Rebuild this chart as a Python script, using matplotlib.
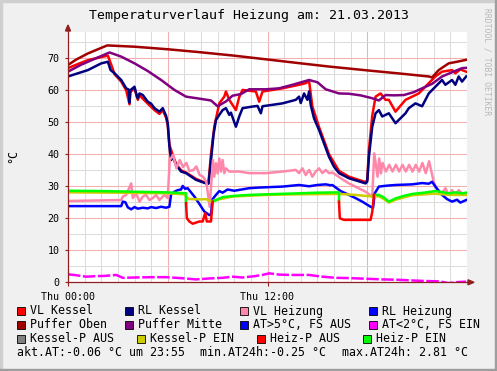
import numpy as np
import matplotlib
matplotlib.use("Agg")
import matplotlib.pyplot as plt
from matplotlib.patches import Rectangle, Polygon
from matplotlib.lines import Line2D

nan = np.nan

# --- Daten (Stunden seit 00:00, Temperatur in °C) ---
puffer_oben_t = [0, 0.5, 1.2, 1.8, 2.36, 4, 6, 7.9, 10, 12, 14, 15.7, 18, 20, 21.7, 21.9, 22.3, 22.9, 23.4, 23.95]
puffer_oben_v = [67.9, 69.6, 71.5, 72.8, 74.0, 73.6, 72.8, 71.9, 70.8, 69.6, 68.4, 67.4, 66.2, 65.2, 64.3, 64.0, 66.3, 68.4, 68.9, 69.5]

puffer_mitte_t = [0, 0.8, 1.6, 2.5, 3.2, 4, 4.8, 5.6, 6.4, 7.1, 8, 8.6, 9.0, 9.5, 9.9, 10.4, 10.9, 11.9, 12.7, 13.5,
                  14.5, 15.0, 15.5, 16.3, 16.9, 17.6, 18.3, 18.7, 19.1, 19.6, 20.2, 20.8, 21.3, 21.9, 22.5, 23.1, 23.7, 23.95]
puffer_mitte_v = [65.8, 68.0, 69.8, 71.8, 70.5, 68.4, 66.0, 63.2, 60.1, 58.0, 57.3, 56.8, 55.0, 56.5, 58.3, 58.8, 60.3, 60.3, 60.6, 61.7,
                  63.2, 62.5, 60.3, 59.0, 58.9, 58.4, 57.5, 56.8, 58.5, 58.4, 58.5, 59.4, 60.6, 62.0, 64.3, 65.6, 66.9, 67.0]

rl_kessel_t = [0, 0.6, 1.2, 2.0, 2.4, 2.56, 2.8, 3.2, 3.5, 3.65, 3.7, 3.75, 4.0, 4.15, 4.2, 4.3, 4.5, 4.8, 5.0, 5.2,
               5.5, 5.7, 5.9, 6.0, 6.1, 6.2, 6.3, 6.5, 6.8, 7.1, 7.7, 8.3, 8.45, 8.6, 8.75, 8.9, 9.1, 9.3, 9.5, 9.7,
               9.8, 10.1, 10.3, 10.5, 11.1, 11.4, 11.6, 11.7, 12.9, 13.7, 13.9, 14.0, 14.2, 14.4, 14.5, 14.6, 14.8, 15.1, 15.4, 15.7,
               16.0, 16.3, 16.9, 17.9, 18.0, 18.1, 18.3, 18.5, 18.7, 18.9, 19.3, 19.7, 20.3, 20.5, 20.9, 21.3, 21.7, 22.1, 22.5, 22.7,
               23.1, 23.3, 23.5, 23.7, 23.95]
rl_kessel_v = [64.3, 65.3, 66.3, 68.4, 68.9, 66.3, 65.3, 63.2, 60.6, 60.2, 56.1, 60.0, 61.1, 58.0, 57.5, 59.0, 58.5, 56.4, 55.8, 54.4,
               53.3, 54.4, 52.0, 49.7, 42.4, 38.2, 39.2, 36.7, 34.6, 34.1, 32.0, 30.9, 30.8, 38.0, 46.0, 50.7, 52.3, 53.8, 54.4, 52.3,
               53.0, 48.6, 51.8, 54.4, 54.9, 55.1, 52.8, 55.0, 55.9, 57.0, 58.0, 56.0, 59.0, 57.0, 59.6, 55.4, 51.2, 47.6, 43.4, 39.2,
               36.1, 34.1, 32.5, 30.9, 31.5, 39.2, 48.6, 52.8, 53.8, 51.8, 52.8, 49.7, 52.8, 54.4, 55.9, 55.0, 59.0, 61.1, 63.2, 61.7,
               63.2, 61.7, 64.3, 62.7, 64.3]

vl_kessel_t = [0, 0.6, 1.2, 2.1, 2.4, 2.6, 2.8, 3.2, 3.5, 3.7, 3.75, 4.0, 4.2, 4.3, 4.8, 5.2, 5.5, 5.7, 5.9, 6.0,
               6.1, 6.3, 6.5, 6.8, 7.1, 7.7, 8.3, 8.45, 8.6, 8.8, 9.1, 9.4, 9.5, 9.7, 10.1, 10.3, 10.5, 11.3, 11.5, 11.7,
               12.9, 13.9, 14.3, 14.5, 14.7, 15.1, 15.4, 15.7, 16.3, 16.9, 17.9, 18.0, 18.1, 18.3, 18.5, 18.8, 19.1, 19.3, 19.7, 20.3,
               20.7, 21.1, 21.7, 22.1, 22.5, 23.1, 23.3, 23.6, 23.95]
vl_kessel_v = [66.9, 68.2, 69.4, 70.5, 70.8, 68.0, 65.0, 62.7, 60.0, 55.6, 59.5, 60.5, 57.0, 58.4, 55.8, 53.8, 52.6, 53.8, 51.4, 49.0,
               43.0, 39.8, 37.0, 35.0, 34.3, 32.3, 31.0, 31.0, 40.0, 48.6, 55.9, 58.0, 59.6, 57.0, 53.8, 57.9, 60.1, 59.6, 56.4, 59.6,
               60.6, 61.7, 62.2, 62.9, 54.9, 48.5, 44.3, 40.0, 34.8, 33.0, 31.3, 32.0, 41.3, 52.0, 58.0, 59.0, 57.0, 57.0, 53.3, 57.0,
               58.0, 59.0, 62.2, 64.3, 65.8, 66.3, 65.3, 66.5, 65.8]

vl_heizung_t = [0, 3.2, 3.3, 3.5, 3.8, 3.9, 4.1, 4.3, 4.5, 4.7, 4.9, 5.1, 5.3, 5.5, 5.8, 6.0, 6.12, 6.32, 6.52, 6.72,
                6.92, 7.12, 7.3, 7.52, 7.72, 7.92, 8.12, 8.32, 8.52, 8.72, 8.8, 8.9, 9.0, 9.1, 9.2, 9.3, 9.4, 9.5, 9.7, 9.9,
                10.3, 10.9, 11.9, 12.9, 13.7, 13.9, 14.1, 14.3, 14.5, 14.7, 14.9, 15.1, 15.3, 15.5, 15.7, 15.9, 16.5, 16.9, 17.9, 18.3,
                18.42, 18.62, 18.72, 18.82, 18.92, 19.12, 19.32, 19.52, 19.72, 19.92, 20.12, 20.32, 20.52, 20.72, 20.92, 21.12, 21.32, 21.52, 21.72, 21.88,
                22.0, 22.2, 22.5, 22.7, 22.9, 23.1, 23.3, 23.5, 23.7, 23.95]
vl_heizung_v = [25.4, 25.7, 26.8, 27.3, 30.9, 26.3, 27.8, 25.2, 26.8, 27.3, 25.7, 26.3, 27.3, 25.7, 27.3, 26.3, 38.2, 39.8, 35.6, 38.2,
                36.0, 37.3, 34.8, 35.0, 36.2, 33.5, 33.0, 31.4, 23.6, 38.2, 33.0, 37.2, 34.0, 38.7, 34.6, 38.2, 34.1, 35.6, 34.6, 34.6,
                34.6, 34.1, 34.1, 34.6, 35.1, 34.1, 35.6, 33.5, 35.1, 33.0, 34.6, 35.6, 34.1, 35.1, 34.1, 34.3, 32.2, 30.9, 28.3, 26.8,
                40.3, 33.0, 38.7, 34.0, 37.3, 34.6, 36.7, 34.6, 36.7, 34.6, 36.7, 34.6, 36.7, 34.6, 36.7, 34.6, 37.3, 34.1, 37.8, 34.1,
                31.4, 28.8, 27.8, 29.4, 27.3, 28.8, 27.3, 28.8, 27.8, 27.3]

rl_heizung_t = [0, 3.2, 3.3, 3.45, 3.6, 3.8, 4.0, 4.2, 4.5, 4.8, 5.0, 5.3, 5.6, 5.9, 6.1, 6.2, 6.4, 6.6, 6.8, 6.9,
                7.05, 7.2, 7.6, 7.9, 8.2, 8.5, 8.6, 8.7, 8.9, 9.1, 9.3, 9.6, 10.0, 10.9, 11.5, 12.9, 13.9, 14.5, 15.0, 15.5,
                15.8, 15.9, 16.4, 16.9, 17.3, 17.7, 18.2, 18.35, 18.45, 18.7, 19.2, 19.7, 20.7, 21.3, 21.7, 21.9, 22.1, 22.5, 22.8, 23.1,
                23.4, 23.6, 23.95]
rl_heizung_v = [23.8, 23.8, 25.2, 25.0, 23.4, 22.8, 23.5, 23.0, 23.3, 23.1, 23.5, 23.2, 23.6, 23.3, 23.6, 27.5, 28.3, 28.8, 29.0, 30.1,
                29.2, 29.4, 26.8, 24.5, 22.1, 21.0, 21.2, 26.0, 27.3, 28.5, 28.0, 29.0, 28.6, 29.4, 29.6, 29.9, 30.4, 30.0, 30.4, 30.6,
                30.3, 30.4, 28.5, 27.3, 26.3, 25.2, 23.6, 23.3, 27.8, 29.9, 30.2, 30.4, 30.6, 31.0, 30.8, 31.4, 29.9, 27.3, 26.0, 25.2,
                25.8, 24.9, 25.7]

at_t = [0, 0.5, 1.1, 1.6, 2.2, 2.9, 3.3, 4, 5, 5.9, 6.8, 7.7, 8.5, 9.3, 9.9, 10.5, 11.2, 11.7, 12.1, 12.7,
        13.4, 14.5, 15.2, 16.1, 17, 18, 18.9, 19.8, 20.6, 21.5, 22.3, 22.9, 23.5, 23.95]
at_v = [2.5, 2.2, 1.75, 1.9, 2.0, 2.3, 1.4, 1.5, 1.6, 1.6, 1.3, 0.9, 1.2, 1.4, 1.75, 1.5, 1.9, 2.3, 2.8, 2.4,
        2.3, 2.3, 1.8, 1.4, 1.3, 1.1, 0.9, 0.8, 0.6, 0.4, 0.3, -0.25, 0.1, 0.2]

kesselp_ein_t = [0, 3, 6, 7.0, 7.15, 7.3, 8.0, 8.3, 8.6, 8.8, 9.9, 11.9, 13.9, 16.3, 17.3, 18.3, 18.7, 19.0, 19.3, 19.7,
                 20.7, 22, 23, 23.95]
kesselp_ein_v = [28.1, 28.0, 27.8, 27.5, 26.5, 26.0, 25.9, 26.0, 25.2, 25.6, 26.8, 27.3, 27.5, 27.6, 27.3, 26.8, 26.9, 26.0, 24.9, 25.8,
                 27.2, 27.7, 27.3, 27.3]

# Heizungspumpe: EIN (gruen) / AUS (rot), nan trennt Abschnitte
heizp_ein_t = [0, 2, 4, 6, 7.1, 7.1, nan, 8.7, 9.3, 10.0, 10.9, 12, 13.9, 15, 16.3, 16.3, nan,
               18.4, 18.7, 19.0, 19.3, 19.7, 20.2, 20.7, 21.4, 22.1, 22.5, 22.9, 23.3, 23.7, 23.95]
heizp_ein_v = [28.6, 28.5, 28.3, 28.1, 27.8, 24.7, nan, 25.2, 26.6, 27.0, 27.3, 27.5, 27.8, 28.0, 28.1, 25.2, nan,
               27.3, 27.3, 26.5, 25.2, 26.2, 27.0, 27.6, 28.0, 28.5, 28.2, 27.8, 28.1, 27.8, 28.0]
heizp_aus_t = [7.1, 7.15, 7.3, 7.5, 7.9, 8.1, 8.25, 8.35, 8.6, 8.65, 8.7, nan,
               16.3, 16.35, 16.6, 17.5, 18.2, 18.3, 18.4]
heizp_aus_v = [24.7, 20.0, 19.0, 18.3, 19.0, 19.0, 21.6, 19.0, 19.0, 22.0, 25.2, nan,
               25.2, 20.0, 19.5, 19.5, 19.5, 22.0, 27.3]

W, H = 497, 371


def fx(x):
    return x / W


def fy(y):
    return 1 - y / H


plt.rcParams["font.family"] = "DejaVu Sans Mono"
fig = plt.figure(figsize=(4.97, 3.71), dpi=100, facecolor="#F0F0F0")
ax = fig.add_axes([fx(68), fy(282.3), (467 - 68) / W, (282.3 - 32.3) / H])
ax.set_facecolor("white")
ax.set_xlim(0, 24)
ax.set_ylim(0, 78.1)

# Gitter
for h in range(1, 24):
    ax.axvline(h, color="#F4B0B0" if h % 6 == 0 else "#DCDCDC", lw=0.75, zorder=0)
for v in range(5, 80, 5):
    ax.axhline(v, color="#F4B0B0" if v % 10 == 0 else "#DCDCDC", lw=0.75, zorder=0)

lw = 1.8
ax.plot(vl_kessel_t, vl_kessel_v, color="#FF0000", lw=lw)
ax.plot(rl_kessel_t, rl_kessel_v, color="#000080", lw=lw)
ax.plot(vl_heizung_t, vl_heizung_v, color="#FF88AA", lw=lw)
ax.plot(rl_heizung_t, rl_heizung_v, color="#0000FF", lw=lw)
ax.plot(puffer_oben_t, puffer_oben_v, color="#A00000", lw=lw)
ax.plot(puffer_mitte_t, puffer_mitte_v, color="#800080", lw=lw)
ax.plot(at_t, at_v, color="#FF00FF", lw=lw, ls=(0, (5, 1.0)))
ax.plot(kesselp_ein_t, kesselp_ein_v, color="#CCCC00", lw=lw)
ax.plot(heizp_ein_t, heizp_ein_v, color="#00FF00", lw=lw)
ax.plot(heizp_aus_t, heizp_aus_v, color="#FF0000", lw=lw)

for s in ax.spines.values():
    s.set_visible(False)
ax.set_xticks([0, 12])
ax.set_xticklabels(["Thu 00:00", "Thu 12:00"])
ax.set_yticks(range(0, 80, 10))
ax.tick_params(axis="both", labelsize=7.2, color="#902020", width=0.8)
ax.tick_params(axis="x", length=3, direction="out", pad=4)
ax.tick_params(axis="y", length=2, direction="out", pad=4)

# Achsen mit Pfeilen
axc = "#902020"
fig.add_artist(Line2D([fx(68), fx(68)], [fy(282.3), fy(29)], color=axc, lw=0.9))
fig.add_artist(Line2D([fx(68), fx(470)], [fy(282.3), fy(282.3)], color=axc, lw=0.9))
fig.add_artist(Polygon([[fx(65.5), fy(31)], [fx(70.5), fy(31)], [fx(68), fy(25)]], closed=True, color=axc))
fig.add_artist(Polygon([[fx(468), fy(279.8)], [fx(468), fy(284.8)], [fx(474), fy(282.3)]], closed=True, color=axc))

# Rahmen
fig.add_artist(Rectangle((0, fy(2)), 1, 2 / H, color="#CFCFCF", transform=fig.transFigure))
fig.add_artist(Rectangle((0, 0), 2 / W, 1, color="#CFCFCF", transform=fig.transFigure))
fig.add_artist(Rectangle((0, 0), 1, 2 / H, color="#9E9E9E", transform=fig.transFigure))
fig.add_artist(Rectangle((fx(495), 0), 2 / W, 1, color="#9E9E9E", transform=fig.transFigure))

fig.text(fx(249), fy(16), "Temperaturverlauf Heizung am: 21.03.2013", ha="center", va="center", fontsize=9.5)
fig.text(fx(13), fy(156), "°C", ha="center", va="center", rotation=90, fontsize=8.4)
fig.text(fx(487), fy(62), "RRDTOOL / TOBI OETIKER", ha="center", va="center", rotation=-90,
         fontsize=5.8, color="#B8B8B8")

# Legende
legende = [
    ("VL Kessel", "#FF0000", 17, 311), ("RL Kessel", "#000080", 125, 311),
    ("VL Heizung", "#FF88AA", 240, 311), ("RL Heizung", "#0000FF", 368.5, 311),
    ("Puffer Oben", "#A00000", 17, 325), ("Puffer Mitte", "#800080", 125, 325),
    ("AT>5°C, FS AUS", "#0000FF", 240, 325), ("AT<2°C, FS EIN", "#FF00FF", 368.5, 325),
    ("Kessel-P AUS", "#808080", 17, 339), ("Kessel-P EIN", "#CCCC00", 137, 339),
    ("Heiz-P AUS", "#FF0000", 257, 339), ("Heiz-P EIN", "#00FF00", 363, 339),
]
for name, col, x, y in legende:
    fig.add_artist(Rectangle((fx(x), fy(y + 4)), 8 / W, 8 / H, facecolor=col, edgecolor="black",
                             lw=0.6, transform=fig.transFigure))
    fig.text(fx(x + 13), fy(y), name, ha="left", va="center", fontsize=8.4)

fig.text(fx(17), fy(353), "akt.AT:-0.06 °C um 23:55", ha="left", va="center", fontsize=8.4)
fig.text(fx(200), fy(353), "min.AT24h:-0.25 °C", ha="left", va="center", fontsize=8.4)
fig.text(fx(342), fy(353), "max.AT24h: 2.81 °C", ha="left", va="center", fontsize=8.4)

fig.savefig("out.png", dpi=100, facecolor=fig.get_facecolor())
